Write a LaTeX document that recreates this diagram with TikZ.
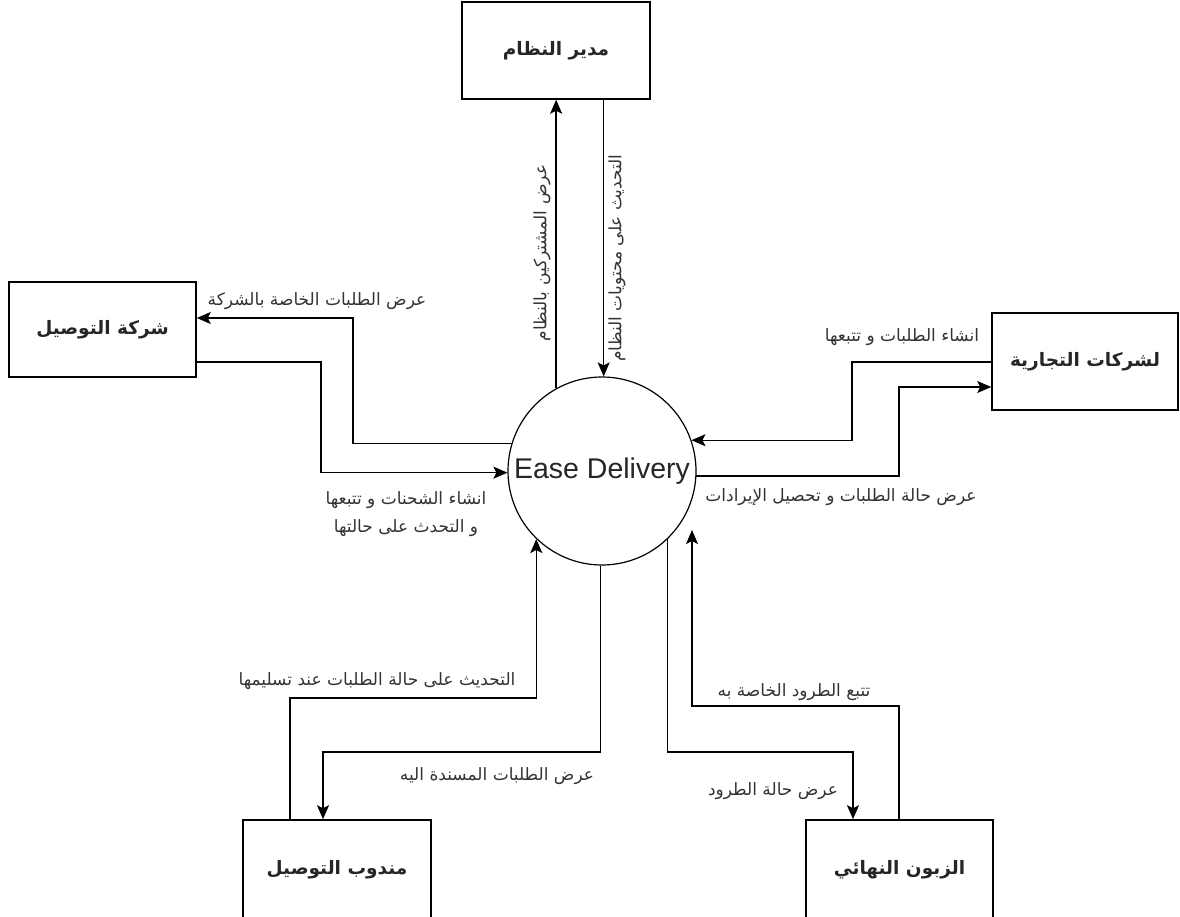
\documentclass[tikz,border=0pt]{standalone}
\usepackage{fontspec}
\setmainfont{Liberation Sans}
\newfontfamily\arabicfont[Script=Arabic]{DejaVu Sans}
\TeXXeTstate=1
\usetikzlibrary{arrows.meta}
\begin{document}
\begin{tikzpicture}[x=1pt,y=-1pt,
  entity/.style={draw, line width=1.5pt, minimum width=188pt, minimum height=97pt, inner sep=0pt, font=\arabicfont\bfseries\fontsize{18.5}{22}\selectfont, text=black!85},
  flow/.style={draw, line width=1.4pt, -{Stealth[length=14pt,width=12pt,inset=3pt]}},
  lbl/.style={font=\arabicfont\fontsize{17}{28}\selectfont, inner sep=0pt, text=black!80}
]
\useasboundingbox[fill=white] (0,0) rectangle (1180,917);

\node[entity] (mgr) at (556,50.5) {\beginR مدير النظام\endR};
\node[entity, minimum width=187pt, minimum height=95pt] (comp) at (102.5,329.5) {\beginR شركة التوصيل\endR};
\node[entity, minimum width=186pt] (biz) at (1085,361.5) {\beginR لشركات التجارية\endR};
\node[entity, minimum height=100pt] (agent) at (337,870) {\beginR مندوب التوصيل\endR};
\node[entity, minimum width=187pt, minimum height=100pt] (cust) at (899.5,870) {\beginR الزبون النهائي\endR};

\node[draw, circle, line width=1.2pt, minimum size=188pt, inner sep=0pt, font=\fontsize{28.5}{32}\selectfont, text=black!85] (sys) at (602,471) {Ease Delivery};

% top
\draw[flow] (sys.119.3) -- (sys.119.3 |- mgr.south);
\draw[flow] (mgr.south -| sys.89.4) -- (sys.89.4);

% left
\coordinate (l1) at (353,318);
\draw[flow] (sys.163.9) -- (sys.163.9 -| l1) -- (l1) -- (l1 -| comp.east);
\coordinate (l2) at (321,362);
\draw[flow] (l2 -| comp.east) -- (l2) -- (l2 |- sys.181.8) -- (sys.181.8);

% right
\coordinate (r1) at (852,362);
\draw[flow] (r1 -| biz.west) -- (r1) -- (r1 |- sys.19.3) -- (sys.19.3);
\coordinate (r2) at (899,387);
\draw[flow] (sys.-3) -- (sys.-3 -| r2) -- (r2) -- (r2 -| biz.west);

% bottom
\coordinate (b1) at (290,698);
\draw[flow] (b1 |- agent.north) -- (b1) -- (b1 -| sys.226.3) -- (sys.226.3);
\coordinate (b2) at (323,752);
\draw[flow] (sys.269.4) -- (sys.269.4 |- b2) -- (b2) -- (b2 |- agent.north);
\coordinate (b3) at (853,752);
\draw[flow] (sys.314.6) -- (sys.314.6 |- b3) -- (b3) -- (b3 |- cust.north);
\coordinate (b4) at (899,706);
\coordinate (cin) at (692,530);
\draw[flow] (b4 |- cust.north) -- (b4) -- (b4 -| cin) -- (cin);

% labels
\node[lbl, rotate=90] (t1) at (542,253) {\beginR عرض المشتركين بالنظام\endR};
\node[lbl, rotate=90] (t2) at (617,258) {\beginR التحديث على محتويات النظام\endR};
\node[lbl] (t3) at (317,301) {\beginR عرض الطلبات الخاصة بالشركة\endR};
\node[lbl, align=center] (t4) at (406,514) {\beginR انشاء الشحنات و تتبعها\endR\\\beginR و التحدث على حالتها\endR};
\node[lbl] (t5) at (902,337) {\beginR انشاء الطلبات و تتبعها\endR};
\node[lbl] (t6) at (841,497) {\beginR عرض حالة الطلبات و تحصيل الإيرادات\endR};
\node[lbl] (t7) at (377,681) {\beginR التحديث على حالة الطلبات عند تسليمها\endR};
\node[lbl] (t8) at (497,776) {\beginR عرض الطلبات المسندة اليه\endR};
\node[lbl] (t9) at (773,791) {\beginR عرض حالة الطرود\endR};
\node[lbl] (t10) at (794,692) {\beginR تتبع الطرود الخاصة به\endR};
\end{tikzpicture}
\end{document}
